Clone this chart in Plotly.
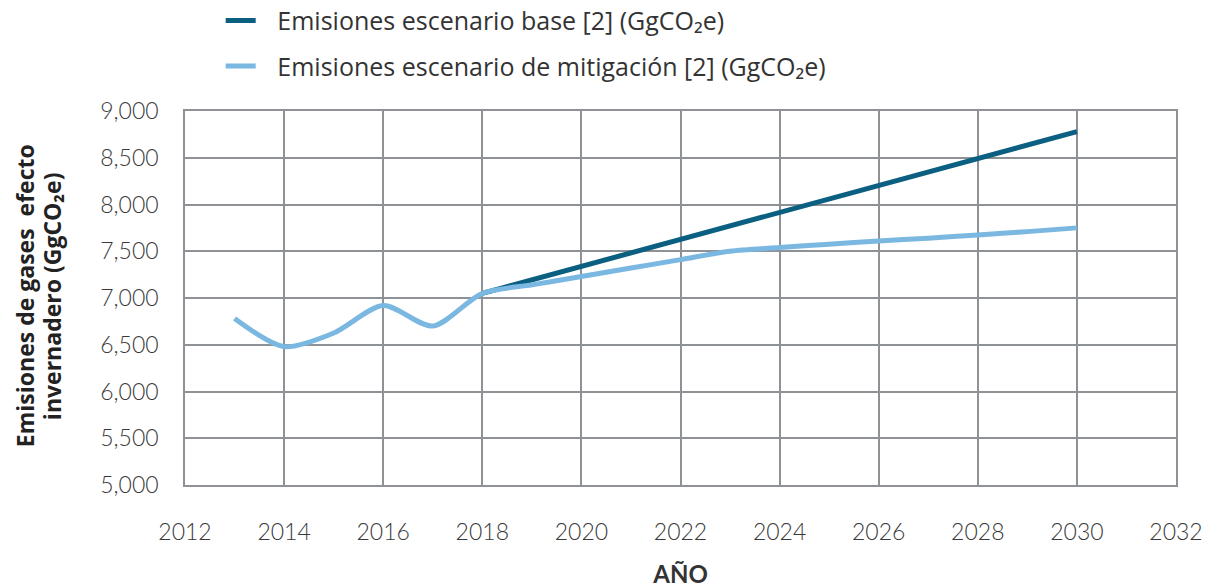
import plotly.graph_objects as go

# Emission series (GgCO2e)
years_base = list(range(2018, 2031))
base_values = [7050, 7194, 7338, 7483, 7627, 7771, 7915, 8059, 8203, 8347, 8492, 8636, 8780]

years_mitigation = list(range(2013, 2031))
mitigation_values = [6780, 6480, 6625, 6920, 6700, 7050,
                     7140, 7230, 7320, 7410, 7500, 7540, 7575, 7610, 7640, 7675, 7710, 7750]

x_ticks = list(range(2012, 2033, 2))
y_ticks = list(range(5000, 9001, 500))
y_tick_labels = [f"{v:,}" for v in y_ticks]

base_name = "Emisiones escenario base [2] (GgCO₂e)"
mitigation_name = "Emisiones escenario de mitigación [2] (GgCO₂e)"
y_title_lines = ["Emisiones de gases  efecto", "invernadero (GgCO₂e)"]

BASE_COLOR = "#0b5f80"
MITIGATION_COLOR = "#7ab8e1"
GRID_COLOR = "#8e9297"
TEXT_COLOR = "#333333"
TICK_FONT = dict(family="Lato", size=23, color="#3a3a3a", weight=300)

# legend label spacer to open a gap between the swatch and its text
PAD = "\u2002\u2009"

fig = go.Figure()
fig.add_trace(go.Scatter(
    x=years_base, y=base_values, name=PAD + base_name, mode="lines",
    line=dict(color=BASE_COLOR, width=5), legendgroup="a",
))
fig.add_trace(go.Scatter(
    x=years_mitigation, y=mitigation_values, name=PAD + mitigation_name, mode="lines",
    line=dict(color=MITIGATION_COLOR, width=5, shape="spline", smoothing=0.8),
    legendgroup="b",
))

# two-line vertical axis title, one rotated line each
PLOT_LEFT, PLOT_W = 185, 991
for px, line in zip([25, 52], y_title_lines):
    fig.add_annotation(
        text=f"<b>{line}</b>", textangle=-90, showarrow=False,
        xref="paper", yref="paper",
        x=(px - PLOT_LEFT) / PLOT_W, y=0.505, xanchor="center", yanchor="middle",
        font=dict(family="Open Sans", size=23, color="#222222"),
    )

fig.update_layout(
    width=1217, height=588,
    margin=dict(l=185, r=41, t=111, b=103, autoexpand=False),
    paper_bgcolor="white", plot_bgcolor="white",
    font=dict(family="Lato", color=TEXT_COLOR, size=20),
    showlegend=True,
    legend=dict(
        x=0.036, y=1.303, xanchor="left", yanchor="top",
        yref="paper",
        font=dict(family="Open Sans", size=25, color=TEXT_COLOR),
        tracegroupgap=10, itemwidth=30,
        bgcolor="rgba(0,0,0,0)",
    ),
    xaxis=dict(
        range=[2012, 2032], tickmode="array", tickvals=x_ticks,
        ticktext=[str(v) for v in x_ticks],
        showgrid=True, gridcolor=GRID_COLOR, gridwidth=1.5,
        showline=True, linecolor=GRID_COLOR, linewidth=1.5, mirror=True,
        ticks="", ticklabelstandoff=26, zeroline=False,
        tickfont=TICK_FONT,
        title=dict(text="<b>AÑO</b>", font=dict(family="Lato", size=24, color=TEXT_COLOR),
                   standoff=24),
    ),
    yaxis=dict(
        range=[5000, 9000], tickmode="array", tickvals=y_ticks, ticktext=y_tick_labels,
        showgrid=True, gridcolor=GRID_COLOR, gridwidth=1.5,
        showline=True, linecolor=GRID_COLOR, linewidth=1.5, mirror=True,
        ticks="", ticklabelstandoff=20, zeroline=False,
        tickfont=TICK_FONT,
    ),
)

fig.write_html("out.html")
